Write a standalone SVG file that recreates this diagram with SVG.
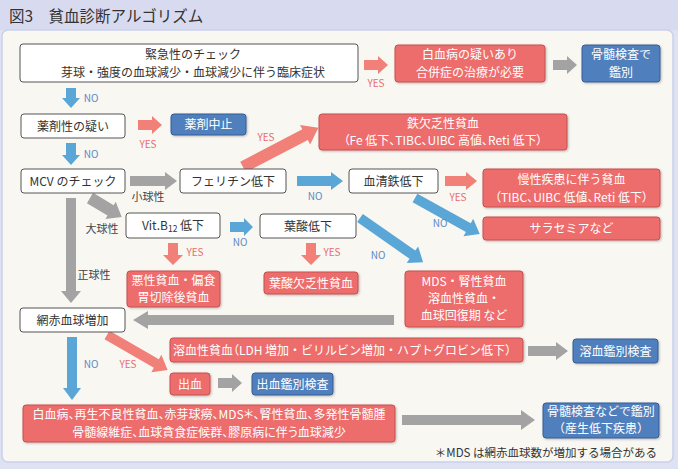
<svg xmlns="http://www.w3.org/2000/svg" width="678" height="469" viewBox="0 0 678 469">
<style>
text{font-family:"Noto Sans CJK JP","Noto Sans",sans-serif;}
.p{font-feature-settings:"palt";}
.w rect{fill:#ffffff;stroke:#555;stroke-width:1;}
.r rect{fill:#ed6c6c;stroke:#c4504f;stroke-width:1;filter:url(#sh);}
.b rect{fill:#4f7fbd;stroke:#365d94;stroke-width:1;filter:url(#sh);}
.w text{fill:#333;font-size:12px;text-anchor:middle;}
.r text,.b text{fill:#fff;font-size:12px;text-anchor:middle;}
.ar{fill:#f08078;}
.ab{fill:#5aa7d7;}
.ag{fill:#a3a3a3;}
.ly{fill:#e86c6c;font-size:10px;text-anchor:middle;}
.ln{fill:#5b8ac6;font-size:10px;text-anchor:middle;}
.lk{fill:#444;font-size:11px;text-anchor:middle;}
</style>
<defs>
<filter id="sh" x="-10%" y="-20%" width="130%" height="150%">
<feDropShadow dx="1" dy="1" stdDeviation="0.8" flood-color="#000" flood-opacity="0.25"/>
</filter>
</defs>
<rect x="0" y="0" width="678" height="469" fill="#dfe2f2"/>
<rect x="0" y="0" width="678" height="30" fill="#d8dbef"/>
<text x="9" y="22" font-size="15.5" fill="#333">図3　貧血診断アルゴリズム</text>
<rect x="2" y="30" width="671" height="432" rx="6" fill="#f8f7f2" stroke="#c9d1ea" stroke-width="1.5"/>

<g id="connectors">
<g class="ar" transform="translate(364,65)"><path d="M0,-5H14V-9L24,0L14,9V5H0Z"/></g>
<g class="ag" transform="translate(553,65)"><path d="M0,-5H14V-9L24,0L14,9V5H0Z"/></g>
<g class="ab" transform="translate(71,88) rotate(90)"><path d="M0,-5H10V-9L20,0L10,9V5H0Z"/></g>
<g class="ar" transform="translate(138,125)"><path d="M0,-5H14V-9L24,0L14,9V5H0Z"/></g>
<g class="ab" transform="translate(71,143) rotate(90)"><path d="M0,-5H12V-9L22,0L12,9V5H0Z"/></g>
<g class="ag" transform="translate(130,181)"><path d="M0,-5H35V-9L47,0L35,9V5H0Z"/></g>
<g class="ar" transform="translate(243,167) rotate(-27.5)"><path d="M0,-6H70V-11L85,0L70,11V6H0Z"/></g>
<g class="ab" transform="translate(297,181)"><path d="M0,-5H34V-9L46,0L34,9V5H0Z"/></g>
<g class="ar" transform="translate(445,181)"><path d="M0,-5H21V-9L32,0L21,9V5H0Z"/></g>
<g class="ab" transform="translate(415,198) rotate(29)"><path d="M0,-5H61V-10L74,0L61,10V5H0Z"/></g>
<g class="ag" transform="translate(90,198) rotate(31)"><path d="M0,-6H24V-10L37,0L24,10V6H0Z"/></g>
<g class="ag" transform="translate(71,198) rotate(90)"><path d="M0,-5H93V-10L105,0L93,10V5H0Z"/></g>
<g class="ab" transform="translate(230,227)"><path d="M0,-5H14V-9L23,0L14,9V5H0Z"/></g>
<g class="ar" transform="translate(173,243) rotate(90)"><path d="M0,-5H12V-10L22,0L12,10V5H0Z"/></g>
<g class="ar" transform="translate(311,243) rotate(90)"><path d="M0,-5H12V-10L22,0L12,10V5H0Z"/></g>
<g class="ab" transform="translate(360,218) rotate(35)"><path d="M0,-5H64V-10L77,0L64,10V5H0Z"/></g>
<g class="ag" transform="translate(394,320) rotate(180)"><path d="M0,-5H246V-9L261,0L246,9V5H0Z"/></g>
<g class="ab" transform="translate(72,337) rotate(90)"><path d="M0,-5H51V-9L63,0L51,9V5H0Z"/></g>
<g class="ar" transform="translate(107,335) rotate(30)"><path d="M0,-5H57V-10L70,0L57,10V5H0Z"/></g>
<g class="ag" transform="translate(528,351)"><path d="M0,-5H28V-9L40,0L28,9V5H0Z"/></g>
<g class="ag" transform="translate(218,383)"><path d="M0,-5H14V-9L24,0L14,9V5H0Z"/></g>
<g class="ag" transform="translate(402,420)"><path d="M0,-5H119V-10L133,0L119,10V5H0Z"/></g>

<text class="ly" x="376" y="87">YES</text>
<text class="ln" x="91" y="102">NO</text>
<text class="ly" x="148" y="148">YES</text>
<text class="ln" x="91" y="158">NO</text>
<text class="lk" x="148" y="201">小球性</text>
<text class="ly" x="266" y="141">YES</text>
<text class="ln" x="315" y="200">NO</text>
<text class="ly" x="458" y="201">YES</text>
<text class="ln" x="440" y="227">NO</text>
<text class="lk" x="102" y="233">大球性</text>
<text class="lk" x="94" y="279">正球性</text>
<text class="ln" x="240" y="246">NO</text>
<text class="ly" x="195" y="256">YES</text>
<text class="ly" x="332" y="256">YES</text>
<text class="ln" x="378" y="259">NO</text>
<text class="ln" x="91" y="368">NO</text>
<text class="ly" x="128" y="368">YES</text>
</g>

<g id="n_emergency" class="w"><rect x="20" y="44" width="338" height="38" rx="3"/><text x="193" y="59">緊急性のチェック</text><text x="193" y="77">芽球・強度の血球減少・血球減少に伴う臨床症状</text></g>
<g id="n_leukemia" class="r"><rect x="395" y="45" width="150" height="37" rx="3"/><text x="470" y="59">白血病の疑いあり</text><text x="470" y="77">合併症の治療が必要</text></g>
<g id="n_marrow1" class="b"><rect x="582" y="45" width="78" height="37" rx="3"/><text x="621" y="59">骨髄検査で</text><text x="621" y="77">鑑別</text></g>
<g id="n_drug" class="w"><rect x="21" y="114" width="104" height="24" rx="3"/><text x="73" y="130.5">薬剤性の疑い</text></g>
<g id="n_stop" class="b"><rect x="171" y="114" width="75" height="21" rx="3"/><text x="208.5" y="129">薬剤中止</text></g>
<g id="n_mcv" class="w"><rect x="21" y="169" width="104" height="24" rx="3"/><text x="73" y="185.5">MCV のチェック</text></g>
<g id="n_ferritin" class="w"><rect x="180" y="169" width="106" height="24" rx="3"/><text x="233" y="185.5">フェリチン低下</text></g>
<g id="n_ida" class="r"><rect x="319" y="114" width="248" height="36" rx="3"/><text x="443" y="128">鉄欠乏性貧血</text><text class="p" x="443" y="145">（Fe 低下、TIBC、UIBC 高値、Reti 低下）</text></g>
<g id="n_serumfe" class="w"><rect x="349" y="169" width="89" height="24" rx="3"/><text x="393.5" y="185.5">血清鉄低下</text></g>
<g id="n_acd" class="r"><rect x="483" y="169" width="177" height="38" rx="3"/><text x="571.5" y="184">慢性疾患に伴う貧血</text><text class="p" x="571.5" y="202">（TIBC、UIBC 低値、Reti 低下）</text></g>
<g id="n_thal" class="r"><rect x="483" y="217" width="177" height="23" rx="3"/><text x="571.5" y="233">サラセミアなど</text></g>
<g id="n_b12" class="w"><rect x="126" y="213" width="94" height="25" rx="3"/><text x="173" y="230">Vit.B<tspan font-size="8.5" dy="2">12</tspan><tspan dy="-2"> 低下</tspan></text></g>
<g id="n_folate" class="w"><rect x="260" y="214" width="96" height="24" rx="3"/><text x="308" y="230.5">葉酸低下</text></g>
<g id="n_pernicious" class="r"><rect x="127" y="271" width="93" height="36" rx="3"/><text x="173.5" y="285">悪性貧血・偏食</text><text x="173.5" y="302">胃切除後貧血</text></g>
<g id="n_folatedef" class="r"><rect x="264" y="272" width="94" height="22" rx="3"/><text x="311" y="287.5">葉酸欠乏性貧血</text></g>
<g id="n_mds" class="r"><rect x="405" y="271" width="118" height="56" rx="3"/><text x="464" y="286">MDS・腎性貧血</text><text x="464" y="303">溶血性貧血・</text><text x="464" y="320">血球回復期 など</text></g>
<g id="n_retic" class="w"><rect x="20" y="308" width="105" height="24" rx="3"/><text x="72.5" y="324.5">網赤血球増加</text></g>
<g id="n_hemolytic" class="r"><rect x="170" y="338" width="353" height="24" rx="3"/><text x="345" y="354.5">溶血性貧血<tspan class="p">（</tspan>LDH 増加・ビリルビン増加・ハプトグロビン低下）</text></g>
<g id="n_hemotest" class="b"><rect x="573" y="339" width="85" height="24" rx="3"/><text x="615.5" y="355.5">溶血鑑別検査</text></g>
<g id="n_bleed" class="r"><rect x="170" y="373" width="40" height="22" rx="3"/><text x="190" y="388.5">出血</text></g>
<g id="n_bleedtest" class="b"><rect x="252" y="373" width="81" height="22" rx="3"/><text x="292.5" y="388.5">出血鑑別検査</text></g>
<g id="n_others" class="r"><rect x="23" y="405" width="372" height="37" rx="3"/><text class="p" x="209" y="419">白血病、再生不良性貧血、赤芽球癆、MDS＊、腎性貧血、多発性骨髄腫</text><text class="p" x="209" y="437">骨髄線維症、血球貪食症候群、膠原病に伴う血球減少</text></g>
<g id="n_marrow2" class="b"><rect x="543" y="403" width="116" height="35" rx="3"/><text x="601" y="416">骨髄検査などで鑑別</text><text x="601" y="433">（産生低下疾患）</text></g>
<text x="657" y="457" font-size="11.5" fill="#333" text-anchor="end">＊MDS は網赤血球数が増加する場合がある</text>
</svg>
